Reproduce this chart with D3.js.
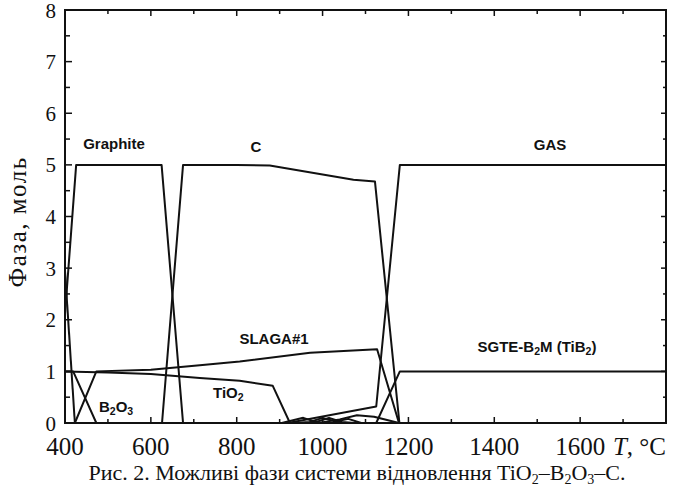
<!DOCTYPE html>
<html><head><meta charset="utf-8">
<script src="https://cdn.jsdelivr.net/npm/d3@7"></script>
<style>body{margin:0;background:#fff}</style>
</head><body>
<svg id="c" width="687" height="495"></svg>
<script>
const xTicks=[400,600,800,1000,1200,1400,1600];
const yTicks=[0,1,2,3,4,5,6,7,8];
const graphite=[[381,0],[426,5],[625,5],[675,0]];
const earlyPhase=[[384,5],[423,0]];
const b2o3=[[400,1],[419,1],[473,0]];
const slaga=[[423,0],[473,1],[600,1.03],[714,1.12],[807,1.19],[971,1.36],[1127,1.43],[1178,0]];
const tio2=[[400,1],[500,0.98],[600,0.95],[714,0.87],[807,0.82],[884,0.72],[924,0]];
const carbon=[[626,0],[675,5],[800,5],[877,4.99],[1072,4.71],[1122,4.68],[1179,0]];
const gas=[[919,0],[1125,0.32],[1180,5],[1800,5]];
const tib2=[[1125,0],[1180,1],[1800,1]];
const minor1=[[905,0],[955,0.1],[985,0.02],[1015,0.1],[1045,0.02],[1075,0]];
const minor2=[[930,0],[970,0.02],[1000,0.1],[1030,0.03],[1060,0.08],[1090,0]];
const minor3=[[990,0],[1040,0.07],[1080,0.15],[1120,0.12],[1178,0]];
const series=[graphite,earlyPhase,b2o3,slaga,tio2,carbon,gas,tib2,minor1,minor2,minor3];

const svg=d3.select("#c");
const x=d3.scaleLinear().domain([400,1800]).range([65,666]);
const y=d3.scaleLinear().domain([0,8]).range([423,10]);

svg.append("clipPath").attr("id","clip").append("rect")
  .attr("x",65).attr("y",10).attr("width",601).attr("height",413);

const line=d3.line().x(d=>x(d[0])).y(d=>y(d[1]));
svg.append("g").attr("clip-path","url(#clip)").selectAll("path").data(series).join("path")
  .attr("d",line).attr("fill","none").attr("stroke","#111").attr("stroke-width",2)
  .attr("stroke-linejoin","round");

// frame
svg.append("rect").attr("x",65).attr("y",10).attr("width",601).attr("height",413)
  .attr("fill","none").attr("stroke","#111").attr("stroke-width",2);

// ticks
const minorX=d3.range(500,1800,100);
const minorY=d3.range(0.5,8,1);
const tg=svg.append("g").attr("stroke","#111").attr("stroke-width",1.5);
minorX.forEach(v=>{
  const len = (v%200===0)?6:4;
  tg.append("line").attr("x1",x(v)).attr("x2",x(v)).attr("y1",y(0)).attr("y2",y(0)-len);
  tg.append("line").attr("x1",x(v)).attr("x2",x(v)).attr("y1",y(8)).attr("y2",y(8)+len);
});
yTicks.slice(1,-1).forEach(v=>{
  tg.append("line").attr("x1",x(400)).attr("x2",x(400)+7).attr("y1",y(v)).attr("y2",y(v));
  tg.append("line").attr("x1",x(1800)).attr("x2",x(1800)-5).attr("y1",y(v)).attr("y2",y(v));
});
minorY.forEach(v=>{
  tg.append("line").attr("x1",x(400)).attr("x2",x(400)+5).attr("y1",y(v)).attr("y2",y(v));
  tg.append("line").attr("x1",x(1800)).attr("x2",x(1800)-3).attr("y1",y(v)).attr("y2",y(v));
});

const serif="'Liberation Serif','Times New Roman',serif";
svg.append("g").selectAll("text").data(xTicks).join("text")
  .attr("x",d=>x(d)).attr("y",455).attr("text-anchor","middle")
  .attr("font-family",serif).attr("font-size",25).attr("fill","#111").text(d=>d);
svg.append("g").selectAll("text").data(yTicks).join("text")
  .attr("x",56).attr("y",d=>y(d)+7.5).attr("text-anchor","end")
  .attr("font-family",serif).attr("font-size",21).attr("fill","#111").text(d=>d);

const tl=svg.append("text").attr("x",666).attr("y",455).attr("text-anchor","end")
  .attr("font-family",serif).attr("font-size",25).attr("fill","#111");
tl.append("tspan").attr("font-style","italic").text("T");
tl.append("tspan").text(", °C");

svg.append("text").attr("transform","translate(26,222) rotate(-90)")
  .attr("text-anchor","middle").attr("font-family",serif).attr("font-size",25)
  .attr("letter-spacing",1.5).attr("fill","#111").text("Фаза, моль");

// caption
const cap=svg.append("text").attr("x",357).attr("y",480).attr("text-anchor","middle")
  .attr("font-family",serif).attr("font-size",22).attr("fill","#111");
const parts=[["Рис. 2. Можливі фази системи відновлення TiO",0],["2",1],["–B",0],["2",1],["O",0],["3",1],["–C.",0]];
parts.forEach((p,i)=>{
  const t=cap.append("tspan").text(p[0]);
  if(p[1]) t.attr("font-size",14).attr("dy",4);
  else if(i>0 && parts[i-1][1]) t.attr("dy",-4);
});

// phase labels
const sans="'Liberation Sans',Arial,sans-serif";
function label(xp,yp,segs,anchor){
  const t=svg.append("text").attr("x",xp).attr("y",yp).attr("text-anchor",anchor||"middle")
    .attr("font-family",sans).attr("font-weight","bold").attr("font-size",15).attr("fill","#111");
  let prevSub=false;
  segs.forEach(s=>{
    const sub=Array.isArray(s);
    const ts=t.append("tspan").text(sub?s[0]:s);
    if(sub){ts.attr("font-size",10.5).attr("dy",3);}
    else if(prevSub){ts.attr("dy",-3);}
    prevSub=sub;
  });
}
label(114,149,["Graphite"]);
label(256,152,["C"]);
label(550,150,["GAS"]);
label(274,344,["SLAGA#1"]);
label(213,398,["TiO",["2"]],"start");
label(99,412,["B",["2"],"O",["3"]],"start");
label(537,352,["SGTE-B",["2"],"M (TiB",["2"],")"]);
</script>
</body></html>
